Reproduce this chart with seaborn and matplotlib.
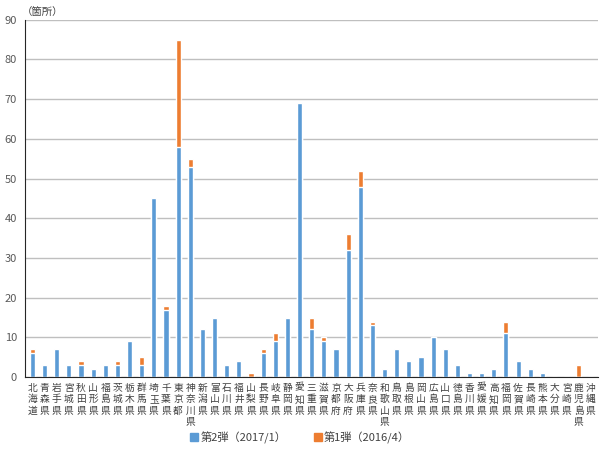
import matplotlib
matplotlib.use("Agg")
import matplotlib.pyplot as plt
import seaborn as sns
import pandas as pd
from matplotlib.patches import Patch

# prefectures and counts
prefs = ["北海道", "青森県", "岩手県", "宮城県", "秋田県", "山形県", "福島県", "茨城県",
         "栃木県", "群馬県", "埼玉県", "千葉県", "東京都", "神奈川県", "新潟県", "富山県",
         "石川県", "福井県", "山梨県", "長野県", "岐阜県", "静岡県", "愛知県", "三重県",
         "滋賀県", "京都府", "大阪府", "兵庫県", "奈良県", "和歌山県", "鳥取県", "島根県",
         "岡山県", "広島県", "山口県", "徳島県", "香川県", "愛媛県", "高知県", "福岡県",
         "佐賀県", "長崎県", "熊本県", "大分県", "宮崎県", "鹿児島県", "沖縄県"]
second = [6, 3, 7, 3, 3, 2, 3, 3, 9, 3, 45, 17, 58, 53, 12, 15,
          3, 4, 0, 6, 9, 15, 69, 12, 9, 7, 32, 48, 13, 2, 7, 4,
          5, 10, 7, 3, 1, 1, 2, 11, 4, 2, 1, 0, 0, 0, 0]
first = [1, 0, 0, 0, 1, 0, 0, 1, 0, 2, 0, 1, 27, 2, 0, 0,
         0, 0, 1, 1, 2, 0, 0, 3, 1, 0, 4, 4, 1, 0, 0, 0,
         0, 0, 0, 0, 0, 0, 0, 3, 0, 0, 0, 0, 0, 3, 0]

label2 = "第2弾（2017/1）"
label1 = "第1弾（2016/4）"
blue = "#5B9BD5"
orange = "#ED7D31"

df = pd.DataFrame({"pref": prefs, "second": second, "first": first})
df["total"] = df["second"] + df["first"]

sns.set_style("white")
plt.rcParams["font.family"] = ["Noto Sans CJK JP", "DejaVu Sans"]

fig = plt.figure(figsize=(6, 4.5), dpi=100)
ax = fig.add_axes([0.042, 0.162, 0.955, 0.794])

# orange = total (stack top), blue drawn over it
sns.barplot(data=df, x="pref", y="total", color=orange, width=0.42,
            saturation=1, ax=ax)
sns.barplot(data=df, x="pref", y="second", color=blue, width=0.42,
            saturation=1, ax=ax)

ax.set_ylim(0, 90)
ax.set_yticks(range(0, 91, 10))
ax.set_xlim(-0.6, len(prefs) - 0.4)
ax.grid(axis="y", color="#BFBFBF", linewidth=1)
ax.set_axisbelow(True)
ax.set_xlabel("")
ax.set_ylabel("")
ax.set_xticks(range(len(prefs)))
ax.set_xticklabels(["\n".join(p) for p in prefs], fontsize=7.0,
                   color="#404040", linespacing=1.2, va="top")
ax.tick_params(axis="x", length=0, pad=4)
ax.tick_params(axis="y", length=0, labelsize=8, labelcolor="#595959", pad=6)
for s in ["top", "right"]:
    ax.spines[s].set_visible(False)
ax.spines["left"].set_color("#262626")
ax.spines["bottom"].set_color("#262626")

fig.text(0.036, 0.962, "（箇所）", fontsize=7.5, color="#404040",
         ha="left", va="bottom")

handles = [Patch(color=blue, label=label2), Patch(color=orange, label=label1)]
fig.legend(handles=handles, loc="lower center", bbox_to_anchor=(0.5, -0.008),
           ncol=2, frameon=False, fontsize=8, handlelength=0.7,
           handleheight=0.7, handletextpad=0.2, columnspacing=2.5,
           labelcolor="#404040")

fig.savefig("out.png", dpi=100)
